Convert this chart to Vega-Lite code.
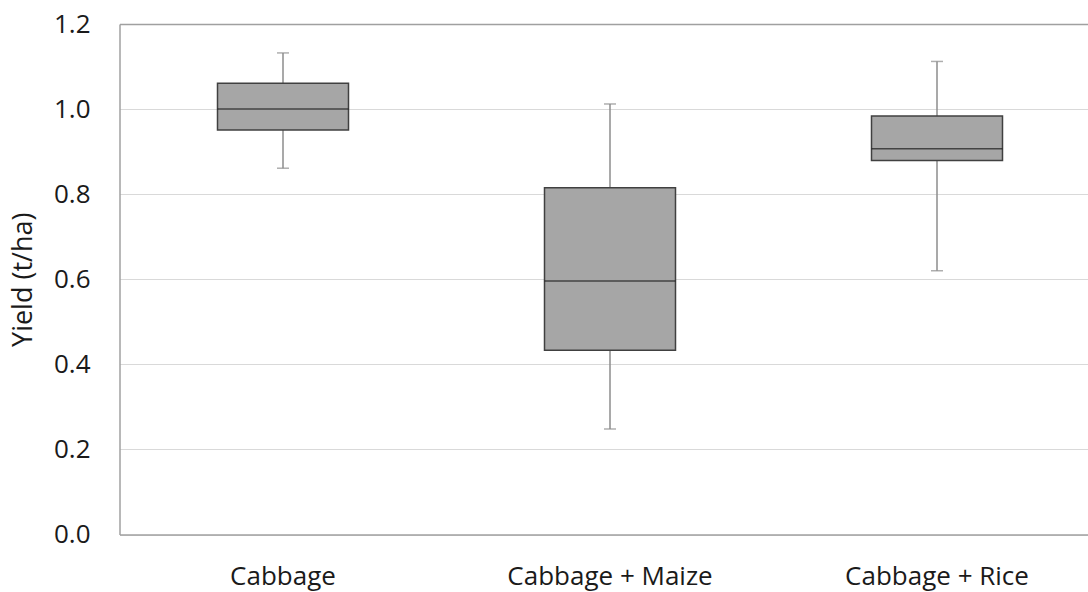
{
  "$schema": "https://vega.github.io/schema/vega-lite/v6.json",
  "autosize": "none",
  "padding": {"left": 119.5, "top": 24, "right": 0, "bottom": 57.5},
  "width": 968.5,
  "height": 510.5,
  "background": "white",
  "config": {
    "view": {"stroke": null},
    "font": "Open Sans",
    "axis": {"labelFont": "Open Sans", "titleFont": "Open Sans", "labelColor": "#1a1a1a", "titleColor": "#1a1a1a", "titleFontWeight": "normal"}
  },
  "data": {
    "values": [
      {"crop": "Cabbage", "min": 0.861, "q1": 0.951, "median": 1.0, "q3": 1.061, "max": 1.132},
      {"crop": "Cabbage + Maize", "min": 0.248, "q1": 0.433, "median": 0.596, "q3": 0.815, "max": 1.012},
      {"crop": "Cabbage + Rice", "min": 0.62, "q1": 0.879, "median": 0.907, "q3": 0.984, "max": 1.112}
    ]
  },
  "encoding": {
    "x": {
      "field": "crop",
      "type": "nominal",
      "sort": null,
      "scale": {"range": [0, 981], "paddingInner": 0, "paddingOuter": 0},
      "axis": {
        "title": null,
        "labelAngle": 0,
        "labelFontSize": 26,
        "labelPadding": 29,
        "labelLimit": 500,
        "ticks": false,
        "domain": true,
        "domainColor": "#a0a0a0",
        "domainWidth": 1.5,
        "grid": false
      }
    }
  },
  "layer": [
    {
      "mark": {"type": "rule", "color": "#8c8c8c", "strokeWidth": 1.5},
      "encoding": {
        "y": {
          "field": "min",
          "type": "quantitative",
          "scale": {"domain": [0, 1.2], "nice": false, "zero": true},
          "axis": {
            "title": "Yield (t/ha)",
            "titleFontSize": 27,
            "titlePadding": 16,
            "values": [0, 0.2, 0.4, 0.6, 0.8, 1.0, 1.2],
            "format": ".1f",
            "labelFontSize": 26,
            "labelPadding": 29.5,
            "ticks": false,
            "domain": true,
            "domainColor": "#a0a0a0",
            "domainWidth": 1.5,
            "grid": true,
            "gridColor": {"condition": {"test": "datum.value > 1.19", "value": "#a0a0a0"}, "value": "#d9d9d9"},
            "gridWidth": {"condition": {"test": "datum.value > 1.19", "value": 1.5}, "value": 1}
          }
        },
        "y2": {"field": "max"}
      }
    },
    {
      "mark": {"type": "tick", "color": "#8c8c8c", "size": 12, "thickness": 1.5, "orient": "horizontal"},
      "encoding": {"y": {"field": "min", "type": "quantitative"}}
    },
    {
      "mark": {"type": "tick", "color": "#8c8c8c", "size": 12, "thickness": 1.5, "orient": "horizontal"},
      "encoding": {"y": {"field": "max", "type": "quantitative"}}
    },
    {
      "mark": {"type": "bar", "size": 131, "fill": "#a6a6a6", "stroke": "#404040", "strokeWidth": 1.5},
      "encoding": {
        "y": {"field": "q1", "type": "quantitative"},
        "y2": {"field": "q3"}
      }
    },
    {
      "mark": {"type": "tick", "color": "#1a1a1a", "size": 131, "thickness": 1.5, "orient": "horizontal"},
      "encoding": {"y": {"field": "median", "type": "quantitative"}}
    }
  ]
}
